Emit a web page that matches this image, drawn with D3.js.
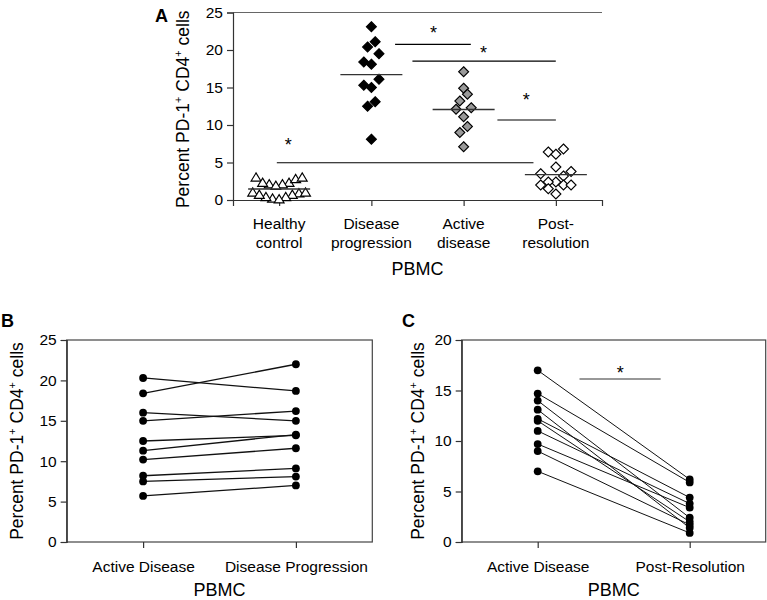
<!DOCTYPE html>
<html><head><meta charset="utf-8">
<script src="https://cdn.jsdelivr.net/npm/d3@7/dist/d3.min.js"></script>
<style>
body{margin:0;background:#fff;}
svg text{font-family:"Liberation Sans",Arial,Helvetica,sans-serif;fill:#000;}
</style></head>
<body>
<svg id="chart" width="767" height="600"></svg>
<script>
// ---------- DATA ----------
// Panel A
const categoriesA = [["Healthy","control"],["Disease","progression"],["Active","disease"],["Post-","resolution"]];
const healthyControl = [3.0, 2.3, 2.1, 2.1, 2.3, 2.8, 3.0, 1.9, 1.0, 0.9, 0.7, 0.4, 0.2, 0.4, 0.7, 1.0, 0.1];
const diseaseProgression = [23.1, 21.1, 20.4, 19.5, 18.4, 18.1, 16.1, 15.3, 15.0, 13.1, 12.5, 8.1];
const activeDisease = [17.1, 14.9, 14.1, 13.2, 12.3, 12.1, 11.1, 9.8, 9.0, 7.1];
const postResolution = [6.8, 6.4, 6.1, 4.4, 3.8, 3.5, 3.2, 2.4, 2.4, 2.0, 2.0, 2.0, 1.5, 0.8];
const yTicksA = [0, 5, 10, 15, 20, 25];
// significance bars: category-index span, value level; star location
const sigBarsA = [
  {from:-0.025, to:2.757, level:4.97, starAt:0.098, starLevel:7.87},
  {from:1.257, to:2.078, level:20.76, starAt:1.673, starLevel:22.8},
  {from:1.445, to:2.999, level:18.53, starAt:2.215, starLevel:20.1},
  {from:2.366, to:3.0, level:10.67, starAt:2.678, starLevel:13.87}
];
// Panel B (paired)
const categoriesB = ["Active Disease", "Disease Progression"];
const activeB = [20.3, 18.4, 16.0, 15.0, 12.5, 11.3, 10.2, 8.2, 7.5, 5.7];
const progressionB = [18.7, 22.0, 15.0, 16.2, 13.2, 13.3, 11.6, 9.1, 8.1, 7.0];
const yTicksB = [0, 5, 10, 15, 20, 25];
// Panel C (paired)
const categoriesC = ["Active Disease", "Post-Resolution"];
const activeC = [17.0, 14.7, 14.0, 13.1, 12.2, 12.0, 11.0, 9.7, 9.0, 7.0];
const postC = [6.2, 5.9, 2.4, 1.4, 4.4, 2.0, 3.8, 3.4, 1.7, 0.9];
const yTicksC = [0, 5, 10, 15, 20];
const sigBarC = {from:0.275, to:0.809, level:16.14, starAt:0.543, starLevel:17.1};

// ---------- DRAW ----------
const svg = d3.select("#chart");
const axisColor = "#333";
const FS = 15.5;

function yLabel(g, x, yMid) {
  const t = g.append("text")
    .attr("transform", `translate(${x},${yMid}) rotate(-90)`)
    .attr("text-anchor", "middle")
    .attr("font-size", 17.5);
  t.append("tspan").text("Percent PD-1");
  t.append("tspan").attr("dy", -7).attr("font-size", 11).text("+");
  t.append("tspan").attr("dy", 7).text(" CD4");
  t.append("tspan").attr("dy", -7).attr("font-size", 11).text("+");
  t.append("tspan").attr("dy", 7).text(" cells");
}

function styleAxis(sel) {
  sel.selectAll("path").attr("stroke", axisColor).attr("stroke-width", 1.2);
  sel.selectAll("line").attr("stroke", axisColor).attr("stroke-width", 1.2);
  sel.selectAll("text").attr("font-size", FS).attr("fill", "#000")
     .attr("font-family", '"Liberation Sans",Arial,sans-serif');
}

// GraphPad-like row scatter: values grouped (ascending) into rows spanning < span units,
// each row spread horizontally, lowest value at the centre.
function rowScatter(values, cx, y, span, spacing) {
  const idx = values.map((v, i) => i).sort((a, b) => values[a] - values[b]);
  const rows = [];
  let cur = null;
  idx.forEach(i => {
    if (!cur || values[i] - values[cur[0]] >= span) { cur = [i]; rows.push(cur); }
    else cur.push(i);
  });
  const out = new Array(values.length);
  rows.forEach(r => {
    const n = r.length;
    const slots = d3.range(n).map(k => (k - (n - 1) / 2) * spacing);
    slots.sort((a, b) => Math.abs(a) - Math.abs(b) || a - b);
    r.forEach((i, k) => { out[i] = {x: cx + slots[k], y: y(values[i])}; });
  });
  return out;
}

// ===== Panel A =====
(function() {
  const g = svg.append("g");
  const left = 233, right = 602, top = 12.5, bottom = 200;
  const y = d3.scaleLinear().domain([0, 25]).range([bottom, top]);
  const x = d3.scalePoint().domain(categoriesA.map(d => d.join(" "))).range([left, right]).padding(0.5);
  const step = x.step();
  const x0 = x(x.domain()[0]);
  const xi = i => x0 + i * step;

  g.append("line").attr("x1", left).attr("x2", right).attr("y1", top).attr("y2", top)
    .attr("stroke", "#666").attr("stroke-width", 1.2);

  const ya = g.append("g").attr("transform", `translate(${left},0)`)
    .call(d3.axisLeft(y).tickValues(yTicksA).tickSize(6).tickPadding(4));
  styleAxis(ya);
  const xa = g.append("g").attr("transform", `translate(0,${bottom})`)
    .call(d3.axisBottom(x).tickSize(6).tickFormat(""));
  styleAxis(xa);
  categoriesA.forEach((c, i) => {
    const t = g.append("text").attr("text-anchor", "middle").attr("font-size", FS)
      .attr("x", xi(i)).attr("y", 229);
    t.append("tspan").attr("x", xi(i)).text(c[0]);
    t.append("tspan").attr("x", xi(i)).attr("dy", 18.5).text(c[1]);
  });
  g.append("text").attr("x", (left + right) / 2).attr("y", 275).attr("text-anchor", "middle")
    .attr("font-size", 18).text("PBMC");
  yLabel(g, 189, (top + bottom) / 2 + 3);
  g.append("text").attr("x", 155).attr("y", 22).attr("font-size", 18).attr("font-weight", "bold").text("A");

  const groups = [
    {vals: healthyControl, shape: "tri", fill: "#fff"},
    {vals: diseaseProgression, shape: "dia", fill: "#000"},
    {vals: activeDisease, shape: "dia", fill: "#999"},
    {vals: postResolution, shape: "dia", fill: "#fff"}
  ];
  const triPath = "M0,-4.6L5,3.6L-5,3.6Z";
  const diaPath = "M0,-5L5,0L0,5L-5,0Z";
  groups.forEach((grp, i) => {
    const pts = rowScatter(grp.vals, xi(i), y, 1.5, grp.shape === "tri" ? 6.6 : 7.6);
    g.append("g").selectAll("path").data(pts).join("path")
      .attr("d", grp.shape === "tri" ? triPath : diaPath)
      .attr("transform", p => `translate(${p.x},${p.y})`)
      .attr("fill", grp.fill).attr("stroke", "#000").attr("stroke-width", 1.1);
    const m = d3.mean(grp.vals);
    g.append("line").attr("x1", xi(i) - 31).attr("x2", xi(i) + 31)
      .attr("y1", y(m)).attr("y2", y(m)).attr("stroke", "#333").attr("stroke-width", 1.3);
  });

  sigBarsA.forEach(b => {
    g.append("line").attr("x1", xi(b.from)).attr("x2", xi(b.to))
      .attr("y1", y(b.level)).attr("y2", y(b.level)).attr("stroke", "#000").attr("stroke-width", 1.2);
    g.append("text").attr("x", xi(b.starAt)).attr("y", y(b.starLevel) + 10)
      .attr("text-anchor", "middle").attr("font-size", 18).attr("fill", "#000").text("*");
  });
})();

// ===== Paired panels =====
function paired(opts) {
  const g = svg.append("g");
  const {left, right, top, bottom, yMax, ticks, cats, a, b, label, labelX, yLabX} = opts;
  const y = d3.scaleLinear().domain([0, yMax]).range([bottom, top]);
  const x = d3.scalePoint().domain(cats).range([left, right]).padding(0.5);

  g.append("rect").attr("x", left).attr("y", top).attr("width", right - left).attr("height", bottom - top)
    .attr("fill", "none").attr("stroke", "#444").attr("stroke-width", 1.2);
  const ya = g.append("g").attr("transform", `translate(${left},0)`)
    .call(d3.axisLeft(y).tickValues(ticks).tickSize(6).tickPadding(4));
  styleAxis(ya);
  const xa = g.append("g").attr("transform", `translate(0,${bottom})`)
    .call(d3.axisBottom(x).tickSize(6).tickPadding(13));
  styleAxis(xa);
  xa.select(".domain").remove();
  g.append("text").attr("x", (left + right) / 2).attr("y", 596).attr("text-anchor", "middle")
    .attr("font-size", 18).text("PBMC");
  yLabel(g, yLabX, (top + bottom) / 2);
  g.append("text").attr("x", labelX).attr("y", 327).attr("font-size", 18).attr("font-weight", "bold").text(label);

  const pairs = a.map((v, i) => [v, b[i]]);
  g.append("g").selectAll("line").data(pairs).join("line")
    .attr("x1", x(cats[0])).attr("x2", x(cats[1]))
    .attr("y1", d => y(d[0])).attr("y2", d => y(d[1]))
    .attr("stroke", "#111").attr("stroke-width", opts.lw);
  g.append("g").selectAll("circle").data(a).join("circle")
    .attr("cx", x(cats[0])).attr("cy", d => y(d)).attr("r", 3.9).attr("fill", "#000");
  g.append("g").selectAll("circle").data(b).join("circle")
    .attr("cx", x(cats[1])).attr("cy", d => y(d)).attr("r", 3.9).attr("fill", "#000");
  if (opts.sig) {
    const s = opts.sig, step = x.step(), x0 = x(cats[0]);
    g.append("line").attr("x1", x0 + s.from * step).attr("x2", x0 + s.to * step)
      .attr("y1", y(s.level)).attr("y2", y(s.level)).attr("stroke", "#333").attr("stroke-width", 1.2);
    g.append("text").attr("x", x0 + s.starAt * step).attr("y", y(s.starLevel) + 10)
      .attr("text-anchor", "middle").attr("font-size", 18).attr("fill", "#000").text("*");
  }
}

paired({left: 66.7, right: 372.3, top: 340, bottom: 542, yMax: 25, ticks: yTicksB,
  cats: categoriesB, a: activeB, b: progressionB, label: "B", labelX: 1, yLabX: 23, lw: 1.3});
paired({left: 461.7, right: 765.7, top: 340, bottom: 542, yMax: 20, ticks: yTicksC,
  cats: categoriesC, a: activeC, b: postC, label: "C", labelX: 402, yLabX: 424, lw: 1, sig: sigBarC});
</script>
</body></html>
